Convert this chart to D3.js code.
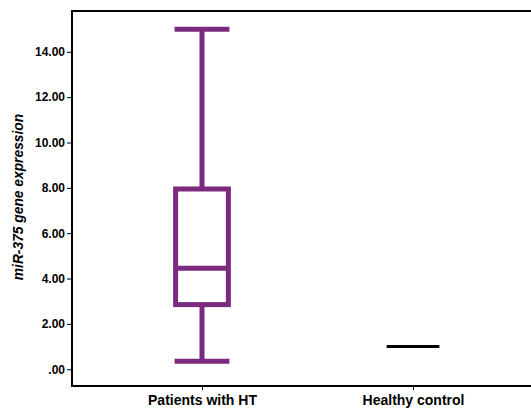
<!DOCTYPE html>
<html>
<head>
<meta charset="utf-8">
<script src="https://cdn.jsdelivr.net/npm/d3@7"></script>
<style>
  body { margin: 0; background: #fff; }
  text { font-family: "Liberation Sans", Arial, sans-serif; font-weight: bold; }
</style>
</head>
<body>
<svg id="chart" width="531" height="409"></svg>
<script>
var groups = ["Patients with HT", "Healthy control"];
var whiskerLow = [0.35, 1.0];
var q1 = [2.85, 1.0];
var median = [4.45, 1.0];
var q3 = [7.95, 1.0];
var whiskerHigh = [15.0, 1.0];
var yTicks = [0, 2, 4, 6, 8, 10, 12, 14];
var boxColors = ["#7b2a7e", "#000"];

var svg = d3.select("#chart"),
    plotLeft = 72, plotTop = 11, plotRight = 543, plotBottom = 386;

var y = d3.scaleLinear()
    .domain([-0.74, 15.8])
    .range([plotBottom, plotTop]);

var x = d3.scalePoint()
    .domain(groups)
    .range([plotLeft, plotRight])
    .padding(0.616);

var step = x.step();
var boxW = step * 0.25;
var capW = step * 0.13;

// frame
svg.append("rect")
    .attr("x", plotLeft)
    .attr("y", plotTop)
    .attr("width", plotRight - plotLeft)
    .attr("height", plotBottom - plotTop)
    .attr("fill", "none")
    .attr("stroke", "#000")
    .attr("stroke-width", 2);

// y axis
var yAxis = svg.append("g")
    .attr("transform", "translate(" + plotLeft + ",0)")
    .call(d3.axisLeft(y).tickValues(yTicks).tickSize(5).tickPadding(2)
      .tickFormat(function(d) { return d === 0 ? ".00" : d3.format(".2f")(d); }));
yAxis.select(".domain").remove();
yAxis.selectAll("text").attr("font-size", 12).attr("fill", "#000");

// x axis
var xAxis = svg.append("g")
    .attr("transform", "translate(0," + plotBottom + ")")
    .call(d3.axisBottom(x).tickSize(4).tickPadding(5));
xAxis.select(".domain").remove();
xAxis.selectAll("text").attr("font-size", 14).attr("fill", "#000");

// y title
svg.append("text")
    .attr("transform", "translate(23,197) rotate(-90)")
    .attr("text-anchor", "middle")
    .attr("font-size", 13.8)
    .attr("font-style", "italic")
    .text("miR-375 gene expression");

groups.forEach(function(g, i) {
  var cx = x(g), c = boxColors[i];
  if (q3[i] === q1[i]) {
    svg.append("line")
        .attr("x1", cx - boxW / 2).attr("x2", cx + boxW / 2)
        .attr("y1", y(median[i])).attr("y2", y(median[i]))
        .attr("stroke", c).attr("stroke-width", 3);
    return;
  }
  var sw = 5;
  // whiskers
  svg.append("line")
      .attr("x1", cx).attr("x2", cx)
      .attr("y1", y(whiskerHigh[i])).attr("y2", y(q3[i]))
      .attr("stroke", c).attr("stroke-width", sw);
  svg.append("line")
      .attr("x1", cx).attr("x2", cx)
      .attr("y1", y(q1[i])).attr("y2", y(whiskerLow[i]))
      .attr("stroke", c).attr("stroke-width", sw);
  [whiskerHigh[i], whiskerLow[i]].forEach(function(v) {
    svg.append("line")
        .attr("x1", cx - capW).attr("x2", cx + capW)
        .attr("y1", y(v)).attr("y2", y(v))
        .attr("stroke", c).attr("stroke-width", sw);
  });
  svg.append("rect")
      .attr("x", cx - boxW / 2)
      .attr("y", y(q3[i]))
      .attr("width", boxW)
      .attr("height", y(q1[i]) - y(q3[i]))
      .attr("fill", "#fff")
      .attr("stroke", c).attr("stroke-width", sw);
  svg.append("line")
      .attr("x1", cx - boxW / 2).attr("x2", cx + boxW / 2)
      .attr("y1", y(median[i])).attr("y2", y(median[i]))
      .attr("stroke", c).attr("stroke-width", sw);
});
</script>
</body>
</html>
